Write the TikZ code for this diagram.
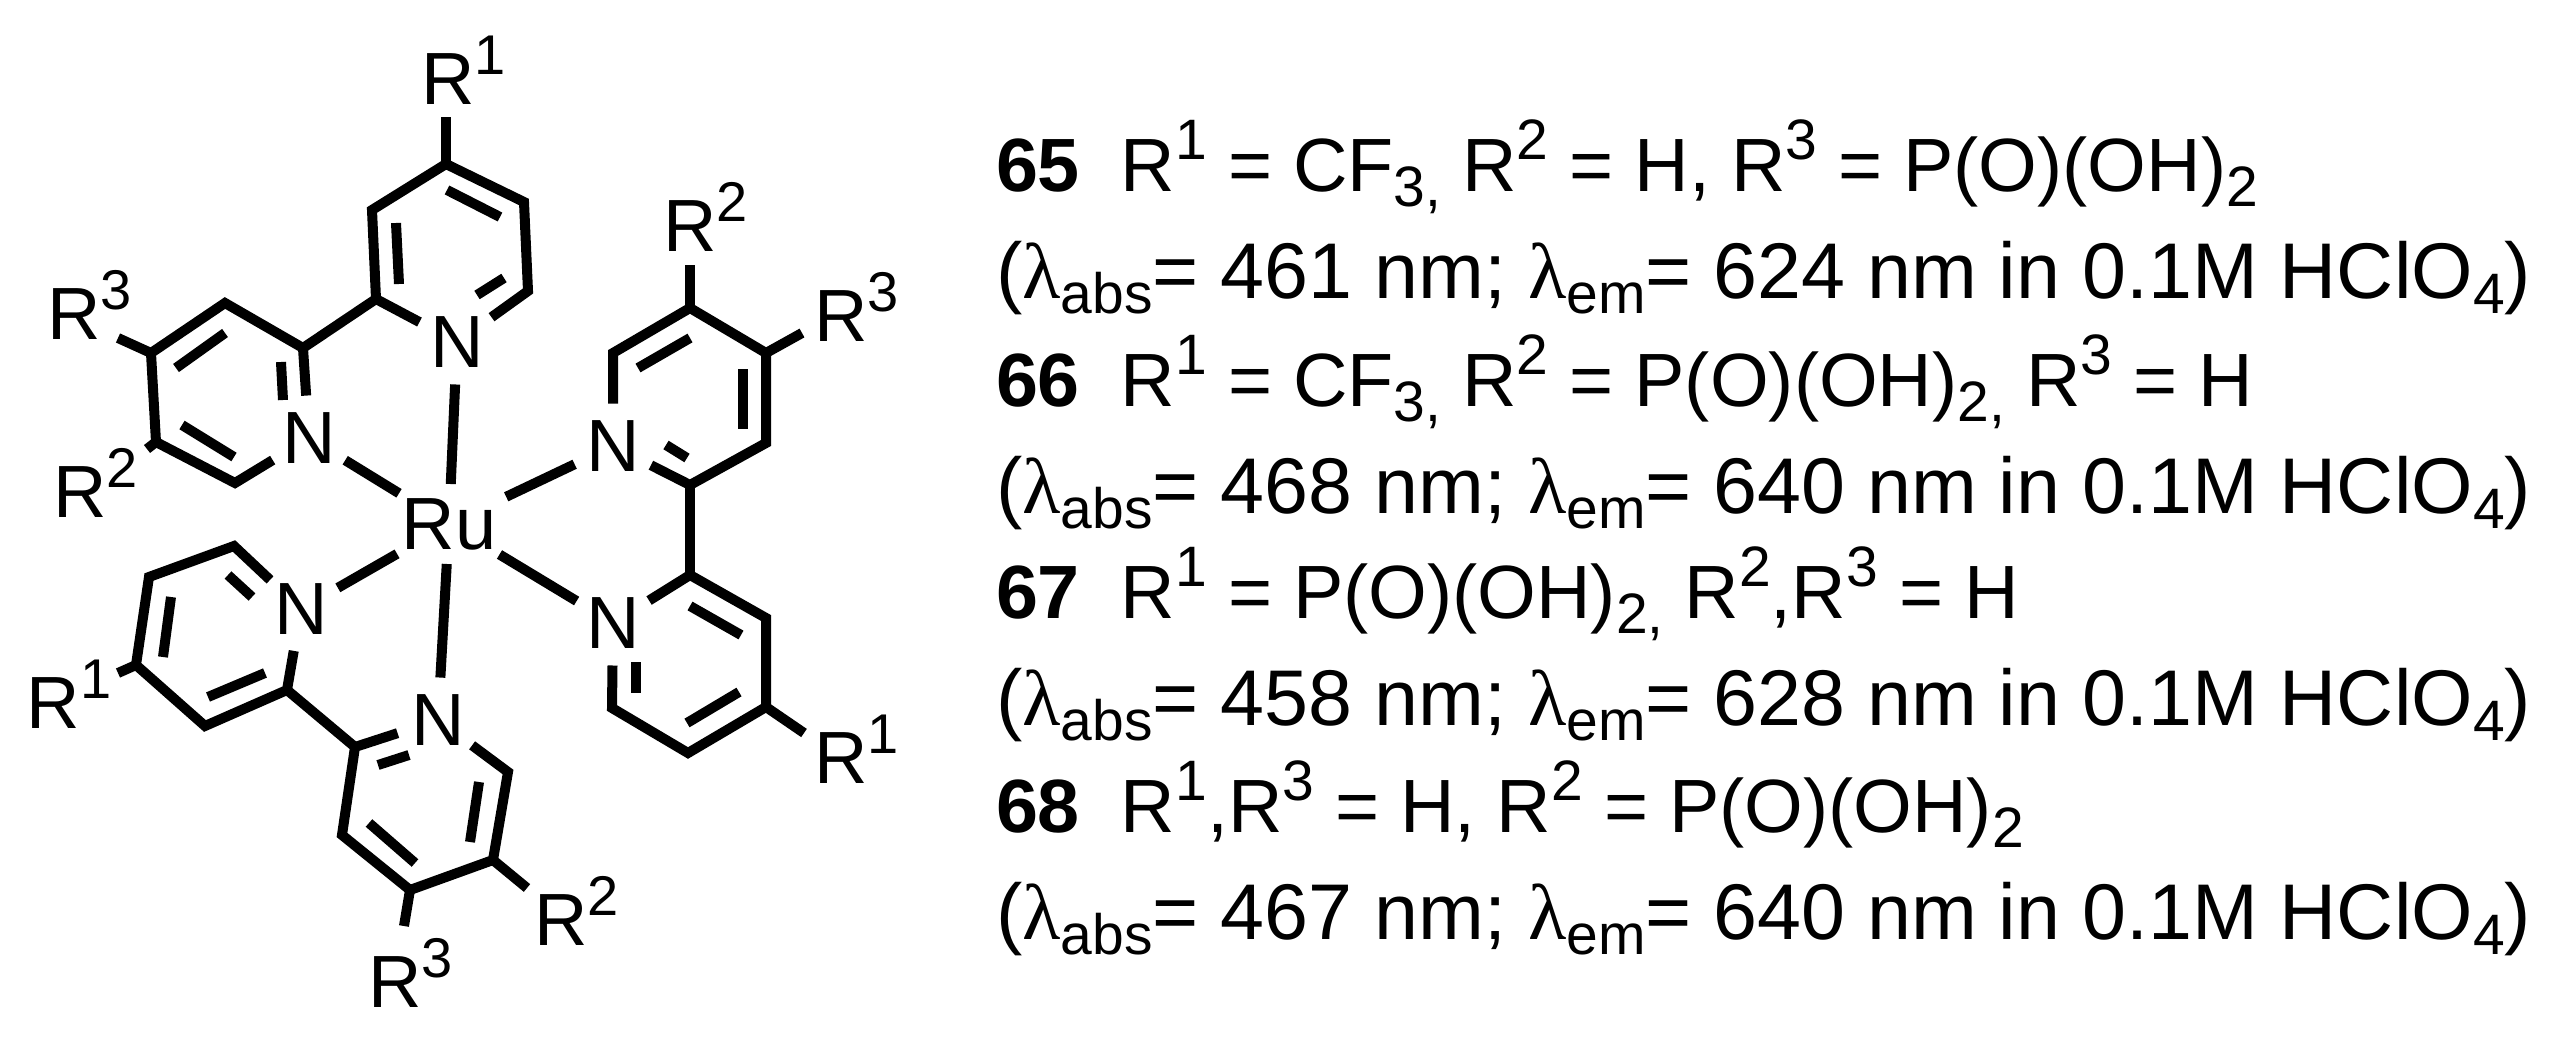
\documentclass[tikz,border=0pt]{standalone}
\usepackage{fontspec}
\usetikzlibrary{shapes.geometric}
\setmainfont{Liberation Sans}
\newfontfamily\lamfont{Liberation Serif}
\newcommand{\Rsup}[1]{R\raisebox{30pt}{\fontsize{56}{56}\selectfont #1}}
\newcommand{\Sp}[1]{\raisebox{32pt}{\fontsize{57}{57}\selectfont #1}}
\newcommand{\Sb}[1]{\raisebox{-15pt}{\fontsize{57}{57}\selectfont #1}}
\newcommand{\Lam}{{\lamfont λ}}
\tikzset{
  bond/.style={line width=10pt,line join=miter,line cap=butt},
  atom/.style={circle,inner sep=0pt,outer sep=0pt,minimum size=85pt,font=\fontsize{74}{74}\selectfont},
  metal/.style={ellipse,inner sep=0pt,outer sep=0pt,minimum width=156pt,minimum height=80pt,font=\fontsize{74}{74}\selectfont},
  rlabel/.style={anchor=base west,inner sep=0pt,outer sep=0pt,font=\fontsize{74}{74}\selectfont},
  txtA/.style={anchor=base west,inner sep=0pt,outer sep=0pt,font=\fontsize{75.5}{80}\selectfont},
  txtB/.style={anchor=base west,inner sep=0pt,outer sep=0pt,font=\fontsize{79}{80}\selectfont}
}
\begin{document}
\begin{tikzpicture}[x=1pt,y=-1pt]
\fill[white] (0,0) rectangle (2561,1040);
\useasboundingbox (0,0) rectangle (2561,1040);
% metal and donor atoms
\node[metal] (ru) at (449,524) {Ru};
\node[atom] (nA) at (457,342) {N};
\node[atom] (nB) at (309,438) {N};
\node[atom] (nC) at (613,446) {N};
\node[atom] (nD) at (613,623) {N};
\node[atom] (nE) at (301,609) {N};
\node[atom] (nF) at (438,720) {N};
% substituent labels
\node[rlabel] (lA) at (421,105) {\Rsup{1}};
\node[rlabel] (lB3) at (47,340) {\Rsup{3}};
\node[rlabel] (lB2) at (53,517) {\Rsup{2}};
\node[rlabel] (lC2) at (663,252) {\Rsup{2}};
\node[rlabel] (lC3) at (814,342) {\Rsup{3}};
\node[rlabel] (lD) at (814,783) {\Rsup{1}};
\node[rlabel] (lE) at (27,728) {\Rsup{1}};
\node[rlabel] (lF2) at (534,945) {\Rsup{2}};
\node[rlabel] (lF3) at (368,1007) {\Rsup{3}};
% ring vertices
\coordinate (a2) at (376,299);
\coordinate (a3) at (372,210);
\coordinate (a4) at (446,164);
\coordinate (a5) at (524,202);
\coordinate (a6) at (528,291);
\coordinate (b2) at (303,348);
\coordinate (b3) at (225,303);
\coordinate (b4) at (151,353);
\coordinate (b5) at (156,442);
\coordinate (b6) at (235,483);
\coordinate (c2) at (690,485);
\coordinate (c3) at (766,443);
\coordinate (c4) at (766,353);
\coordinate (c5) at (690,308);
\coordinate (c6) at (613,353);
\coordinate (d2) at (690,575);
\coordinate (d3) at (766,618);
\coordinate (d4) at (766,707);
\coordinate (d5) at (688,753);
\coordinate (d6) at (612,708);
\coordinate (e2) at (287,690);
\coordinate (e3) at (205,726);
\coordinate (e4) at (136,665);
\coordinate (e5) at (149,577);
\coordinate (e6) at (234,546);
\coordinate (f2) at (355,747);
\coordinate (f3) at (342,835);
\coordinate (f4) at (410,890);
\coordinate (f5) at (493,860);
\coordinate (f6) at (508,772);
% free ends of substituent bonds
\coordinate (sA) at (446,117);
\coordinate (sB3) at (118,338);
\coordinate (sB2) at (147,449);
\coordinate (sC2) at (690,265);
\coordinate (sC3) at (802,333);
\coordinate (sD) at (804,733);
\coordinate (sE) at (118,673);
\coordinate (sF2) at (527,888);
\coordinate (sF3) at (404,926);
% inner lines of double bonds
\coordinate (ia1) at (447,190); \coordinate (ia2) at (500,217);
\coordinate (ia3) at (396,223); \coordinate (ia4) at (399,284);
\coordinate (ia5) at (504,278); \coordinate (ia6) at (477,295);
\coordinate (ib1) at (225,333); \coordinate (ib2) at (176,368);
\coordinate (ib3) at (182,425); \coordinate (ib4) at (234,457);
\coordinate (ib5) at (281,362); \coordinate (ib6) at (283,400);
\coordinate (ic1) at (638,368); \coordinate (ic2) at (690,338);
\coordinate (ic3) at (743,369); \coordinate (ic4) at (743,429);
\coordinate (ic5) at (687,458); \coordinate (ic6) at (666,445);
\coordinate (id1) at (636,662); \coordinate (id2) at (636,693);
\coordinate (id3) at (687,723); \coordinate (id4) at (739,692);
\coordinate (id5) at (690,606); \coordinate (id6) at (741,635);
\coordinate (ie1) at (228,575); \coordinate (ie2) at (252,597);
\coordinate (ie3) at (171,597); \coordinate (ie4) at (163,657);
\coordinate (ie5) at (208,697); \coordinate (ie6) at (265,673);
\coordinate (if1) at (378,765); \coordinate (if2) at (409,755);
\coordinate (if3) at (369,823); \coordinate (if4) at (415,863);
\coordinate (if5) at (479,782); \coordinate (if6) at (470,842);
% rings
\draw[bond] (nA) -- (a2) -- (a3) -- (a4) -- (a5) -- (a6) -- (nA);
\draw[bond] (nB) -- (b2) -- (b3) -- (b4) -- (b5) -- (b6) -- (nB);
\draw[bond] (nC) -- (c2) -- (c3) -- (c4) -- (c5) -- (c6) -- (nC);
\draw[bond] (nD) -- (d2) -- (d3) -- (d4) -- (d5) -- (d6) -- (nD);
\draw[bond] (nE) -- (e2) -- (e3) -- (e4) -- (e5) -- (e6) -- (nE);
\draw[bond] (nF) -- (f2) -- (f3) -- (f4) -- (f5) -- (f6) -- (nF);
% inter-ring bonds
\draw[bond] (a2) -- (b2);
\draw[bond] (c2) -- (d2);
\draw[bond] (e2) -- (f2);
% metal bonds
\draw[bond] (ru) -- (nA);
\draw[bond] (ru) -- (nB);
\draw[bond] (ru) -- (nC);
\draw[bond] (ru) -- (nD);
\draw[bond] (ru) -- (nE);
\draw[bond] (ru) -- (nF);
% substituent bonds
\draw[bond] (a4) -- (sA);
\draw[bond] (b4) -- (sB3);
\draw[bond] (b5) -- (sB2);
\draw[bond] (c5) -- (sC2);
\draw[bond] (c4) -- (sC3);
\draw[bond] (d4) -- (sD);
\draw[bond] (e4) -- (sE);
\draw[bond] (f5) -- (sF2);
\draw[bond] (f4) -- (sF3);
% double bonds
\foreach \r in {a,b,c,d,e,f}{
  \draw[bond] (i\r1) -- (i\r2);
  \draw[bond] (i\r3) -- (i\r4);
  \draw[bond] (i\r5) -- (i\r6);
}
% captions
\node[txtA] (t1) at (996,192) {\textbf{65}\hspace{41pt}R\Sp{1} = CF\Sb{3,} R\Sp{2} = H, R\Sp{3} = P(O)(OH)\Sb{2}};
\node[txtB] (t2) at (996,299) {(\Lam\Sb{abs}= 461 nm; \Lam\Sb{em}= 624 nm in 0.1M HClO\Sb{4})};
\node[txtA] (t3) at (996,406) {\textbf{66}\hspace{41pt}R\Sp{1} = CF\Sb{3,} R\Sp{2} = P(O)(OH)\Sb{2,} R\Sp{3} = H};
\node[txtB] (t4) at (996,513) {(\Lam\Sb{abs}= 468 nm; \Lam\Sb{em}= 640 nm in 0.1M HClO\Sb{4})};
\node[txtA] (t5) at (996,618) {\textbf{67}\hspace{41pt}R\Sp{1} = P(O)(OH)\Sb{2,} R\Sp{2},R\Sp{3} = H};
\node[txtB] (t6) at (996,725) {(\Lam\Sb{abs}= 458 nm; \Lam\Sb{em}= 628 nm in 0.1M HClO\Sb{4})};
\node[txtA] (t7) at (996,832) {\textbf{68}\hspace{41pt}R\Sp{1},R\Sp{3} = H, R\Sp{2} = P(O)(OH)\Sb{2}};
\node[txtB] (t8) at (996,939) {(\Lam\Sb{abs}= 467 nm; \Lam\Sb{em}= 640 nm in 0.1M HClO\Sb{4})};
\end{tikzpicture}
\end{document}
